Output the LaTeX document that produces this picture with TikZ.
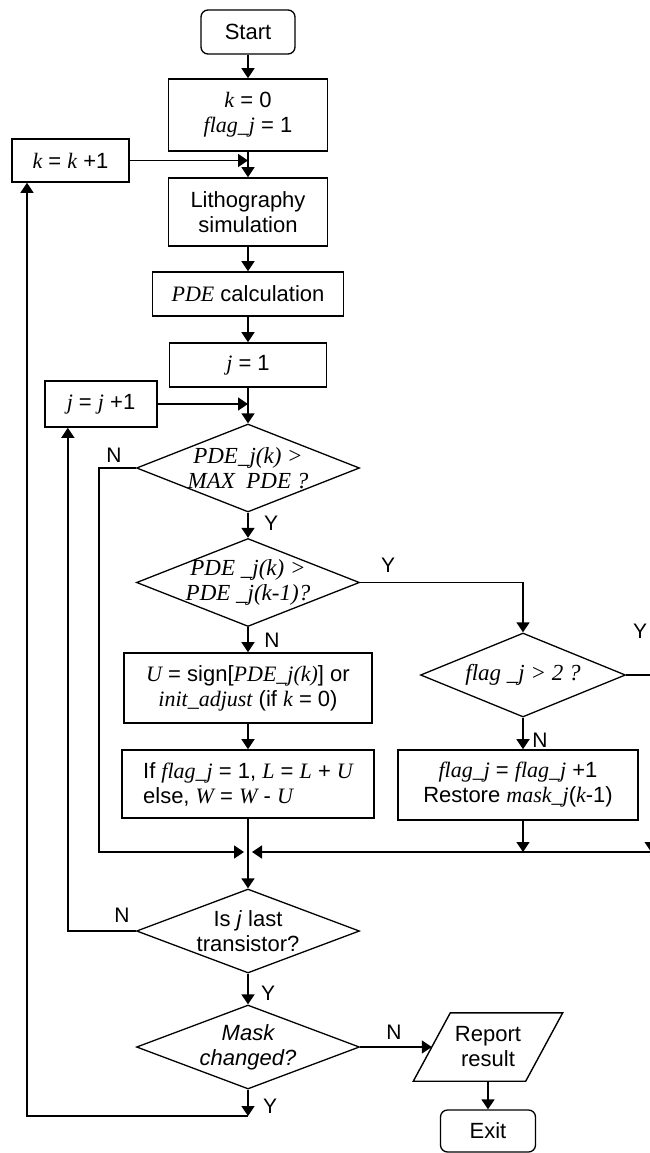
\documentclass[tikz,border=0pt]{standalone}
\usepackage{fontspec}
\setmainfont{Liberation Sans}
\newfontfamily\timesfont{Liberation Serif}
\usetikzlibrary{arrows.meta, positioning, shapes.geometric, calc}
\newcommand{\mv}[1]{{\timesfont\itshape #1}}
\tikzset{
  box/.style={
    rectangle, draw=black, fill=white, line width=1.6pt,
    inner sep=0pt, align=center, font=\fontsize{22}{25}\selectfont
  },
  termbox/.style={box, rounded corners=7pt, line width=1.3pt},
  leftbox/.style={box, align=left},
  ionode/.style={rectangle, inner sep=0pt, align=center, font=\fontsize{22}{25}\selectfont},
  ioline/.style={draw=black, line width=1.4pt},
  decision/.style={
    diamond, draw=black, line width=1.3pt, inner sep=0pt,
    minimum width=223pt, minimum height=88pt
  },
  dtext/.style={align=center, font=\fontsize{22}{25}\selectfont},
  ttext/.style={align=center, font=\fontsize{23}{25}\selectfont},
  yn/.style={font=\fontsize{21}{24}\selectfont, inner sep=0pt},
  arrow/.style={-{Triangle[length=10pt,width=13pt]}, line width=1.5pt, draw=black},
  line/.style={line width=1.5pt, draw=black},
}
\begin{document}
\begin{tikzpicture}[x=1pt, y=-1pt]
  \useasboundingbox (0,0) rectangle (649,1153);

  \node[termbox, minimum width=94pt, minimum height=44pt] (start) at (248,32) {Start};
  \node[box, minimum width=159pt, minimum height=72pt] (k0) at (248,115) {\mv{k} = 0\\\mv{flag\_j} = 1};
  \node[box, minimum width=117pt, minimum height=43pt] (kk) at (70.5,160.5) {\mv{k} = \mv{k} +1};
  \node[box, minimum width=159pt, minimum height=68pt] (litho) at (248,212) {Lithography\\simulation};
  \node[box, minimum width=191pt, minimum height=44pt] (pde) at (248,294) {\mv{PDE} calculation};
  \node[box, minimum width=157pt, minimum height=44pt] (j1) at (248,365) {\mv{j} = 1};
  \node[box, minimum width=112pt, minimum height=46pt] (jj) at (101,404) {\mv{j} = \mv{j} +1};

  \node[decision, label={[ttext]center:{\mv{PDE\_j(k) >}\\\mv{MAX\ \ PDE ?}}}] (d1) at (248,468) {};
  \node[decision, label={[ttext]center:{\mv{PDE \_j(k) >}\\\mv{PDE \_j(k-1)?}}}] (d2) at (248,582.5) {};
  \node[decision, minimum width=205pt, minimum height=84pt,
        label={[ttext]center:{\mv{flag \_j > 2 ?}}}] (d3) at (523,675) {};

  \node[box, minimum width=248pt, minimum height=70pt] (ub) at (248,688)
    {\mv{U} = sign[\mv{PDE\_j(k)}] or\\\mv{init\_adjust} (if \mv{k} = 0)};
  \node[leftbox, minimum width=252pt, minimum height=68pt] (ifb) at (248,784)
    {If \mv{flag\_j} = 1, \mv{L} = \mv{L} + \mv{U}\\else, \mv{W} = \mv{W} - \mv{U}};
  \node[box, minimum width=240pt, minimum height=70pt] (fb) at (518,785)
    {\mv{flag\_j} = \mv{flag\_j} +1\\Restore \mv{mask\_j}(\mv{k}-1)};

  \node[decision, minimum height=84pt, label={[dtext]center:{Is \textit{j} last\\transistor?}}] (d4) at (248,931) {};
  \node[decision, minimum height=84pt, label={[dtext]center:{\itshape Mask\\\itshape changed?}}] (d5) at (248,1047) {};

  \node[ionode, minimum width=112pt, minimum height=68pt] (report) at (488,1047) {Report\\result};
  \draw[ioline] ([xshift=18.5pt]report.north west) -- ([xshift=18.5pt]report.north east)
    -- ([xshift=-18.5pt]report.south east) -- ([xshift=-18.5pt]report.south west) -- cycle;
  \node[termbox, minimum width=95pt, minimum height=42pt] (exit) at (488,1131) {Exit};

  \node[yn] (n1) at (114,455) {N};
  \node[yn] (y1) at (271,523) {Y};
  \node[yn] (y2) at (388,565) {Y};
  \node[yn] (n2) at (272,640) {N};
  \node[yn] (y3) at (640,631) {Y};
  \node[yn] (n3) at (540,740) {N};
  \node[yn] (n4) at (122,915) {N};
  \node[yn] (y4) at (268,993) {Y};
  \node[yn] (y5) at (270,1106) {Y};
  \node[yn] (n5) at (394,1032) {N};

  \draw[arrow] (start) -- (k0);
  \draw[arrow] (k0) -- (litho);
  \draw[arrow] (kk.east) -- (kk.east -| k0.south);
  \draw[arrow] (litho) -- (pde);
  \draw[arrow] (pde) -- (j1);
  \draw[arrow] (j1) -- (d1);
  \draw[arrow] (jj.east) -- (jj.east -| j1.south);
  \draw[arrow] (d1) -- (d2);
  \draw[arrow] (d2.east) -| (d3.north);
  \draw[arrow] (d2) -- (ub);
  \draw[arrow] (ub) -- (ifb);
  \draw[arrow] (d3.south) -- (d3.south |- fb.north);

  \coordinate (join) at (248,852);
  \draw[line] (ifb) -- (join);
  \draw[arrow] (d1.west) -- ++(-37,0) |- ([xshift=-4pt]join);
  \draw[arrow] (d3.east) -- ++(25,0) coordinate (rturn) -- (rturn |- join);
  \draw[arrow] (fb.south -| d3) -- (d3 |- join);
  \draw[arrow] (rturn |- join) -- ([xshift=4pt]join);
  \draw[arrow] (join) -- (d4);

  \draw[arrow] (d4.west) -- ++(-68,0) coordinate (jturn) -- (jturn |- jj.south);
  \draw[arrow] (d4) -- (d5);
  \coordinate (back) at (248,1116);
  \draw[arrow] (d5) -- (back);
  \draw[arrow] (back) -- ++(-221,0) coordinate (kturn) -- (kturn |- kk.south);
  \draw[arrow] (d5) -- (report);
  \draw[arrow] (report) -- (exit);
\end{tikzpicture}
\end{document}
